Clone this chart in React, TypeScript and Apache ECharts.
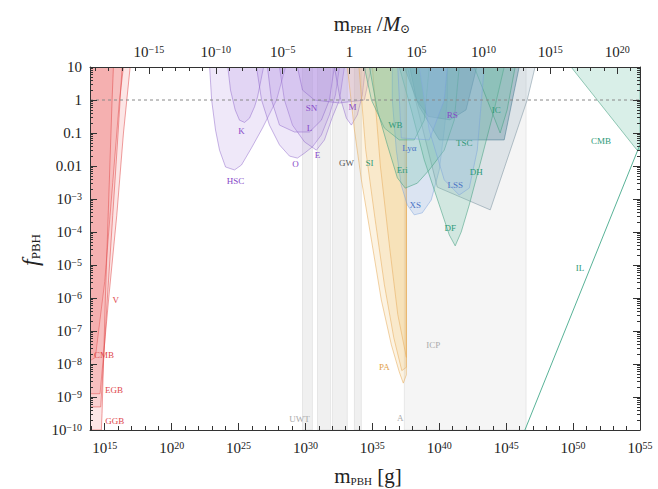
import React, { useEffect, useRef } from "react";
import * as echarts from "echarts";

// Axis extents, in log10 units (grams on x, f_PBH on y)
const X_MIN = 13.9;
const X_MAX = 55;
const Y_MIN = -10;
const Y_MAX = 1;
const LOG_M_SUN = 33.3; // log10 of the solar mass in grams

// Tick positions (exponents)
const BOTTOM_MAJOR = [15, 20, 25, 30, 35, 40, 45, 50, 55];
const TOP_MAJOR = [-15, -10, -5, 0, 5, 10, 15, 20];
const Y_MAJOR = [-10, -9, -8, -7, -6, -5, -4, -3, -2, -1, 0, 1];

// Constraint regions, each a polygon of [log10 m/g, log10 f] points
// Evaporation
const EVAP_GGB = [[13.9, -10], [14.75, -10], [14.8, -9.5], [15.05, -6], [15.3, -3], [15.55, 0], [15.65, 1], [13.9, 1]];
const EVAP_EGB = [[13.9, -9.3], [14.7, -9.3], [15.2, -6], [15.6, -3.5], [16.0, -1], [16.3, 1], [13.9, 1]];
const EVAP_CMB = [[13.9, -7.9], [14.3, -7.8], [15.0, -5.5], [15.6, -2.5], [16.1, 0], [16.4, 1], [13.9, 1]];
const EVAP_V = [[13.9, -8.9], [14.65, -8.9], [15.3, -6], [15.9, -3.5], [16.4, -1], [16.65, 0], [16.9, 1], [13.9, 1]];

// Lensing
const LENS_HSC = [[22.84, 1], [22.99, 0], [23.28, -0.91], [23.58, -1.52], [24.03, -2.03], [24.7, -2.12], [25.22, -1.97], [25.97, -1.45], [26.79, -0.85], [27.84, 0], [28.51, 1]];
const LENS_K = [[24.2, 1], [24.4, 0.3], [24.75, -0.3], [25.07, -0.61], [25.45, -0.68], [25.82, -0.55], [26.2, -0.2], [26.42, 0.09], [26.87, 1]];
const LENS_O = [[26.34, 1], [26.72, 0], [27.31, -0.76], [28.06, -1.36], [28.81, -1.7], [29.4, -1.76], [29.93, -1.61], [30.52, -1.42], [31.19, -1.06], [31.79, -0.45], [32.24, 0.15], [32.54, 1]];
const LENS_E = [[28.06, 1], [28.43, 0], [29.03, -0.76], [29.93, -1.27], [30.82, -1.52], [31.42, -1.21], [32.01, -0.52], [32.54, 0], [32.91, 1]];
const LENS_L = [[27.16, 1], [27.46, 0], [28.06, -0.76], [29.18, -0.97], [30.3, -0.97], [31.19, -0.61], [31.79, 0], [32.16, 1]];
const LENS_SN = [[29.4, 1], [29.78, 0.3], [30.67, 0], [32.54, -0.09], [34.4, 0], [34.93, 1]];
const LENS_M = [[32.16, 1], [32.54, 0.15], [33.06, -0.55], [33.43, -0.76], [33.88, -0.45], [34.25, 0.15], [34.48, 1]];

// Background / gravitational-wave bands, [from, to] in log10 m
const GREY_BANDS = [[29.78, 30.52], [30.9, 31.87], [32.01, 33.13], [33.66, 34.18], [37.39, 46.49]];

// Accretion
const ACC_PA1 = [[33.13, 1], [33.66, -0.91], [34.18, -2.42], [34.93, -4.24], [35.67, -6.06], [36.42, -7.42], [37.01, -8.24], [37.31, -8.58], [37.54, -8.33], [37.54, 1]];
const ACC_PA2 = [[34.0, 1], [34.5, -1.5], [35.2, -3.6], [35.9, -5.6], [36.6, -7.2], [37.2, -8.2], [37.54, -8.1], [37.54, 1]];
const ACC_PA3 = [[35.0, 1], [35.6, -2], [36.3, -4.5], [36.9, -6.5], [37.54, -7.8], [37.54, 1]];
const ACC_XS = [[36.49, 1], [36.49, 0], [36.79, -1.52], [37.16, -2.58], [37.61, -3.18], [38.13, -3.48], [38.73, -3.42], [39.4, -3.03], [40.0, -2.12], [40.37, -0.91], [40.6, 0], [40.6, 1]];

// Dynamical and large-scale structure
const DYN_DH = [[37.61, 1], [39.85, -2.64], [43.81, -3.33], [46.57, 0], [47.16, 1]];
const DYN_TSC = [[37.39, 1], [38.5, -0.2], [40.0, -1.21], [44.85, -1.21], [45.97, 1]];
const DYN_RS = [[37.8, 1], [38.3, 0], [39.2, -0.5], [40.8, -0.6], [42.0, -0.3], [42.8, 1]];
const DYN_DF = [[37.01, 1], [37.91, -0.3], [38.88, -1.82], [40.0, -3.18], [40.75, -4.09], [41.19, -4.42], [41.64, -4.0], [42.24, -3.18], [43.13, -1.82], [44.1, -0.3], [44.85, 1]];
const DYN_WB = [[34.4, 1], [34.93, 0], [35.9, -0.85], [37.01, -1.21], [38.13, -1.21], [38.88, -0.61], [39.25, 1]];
const DYN_ERI = [[34.78, 1], [35.37, -0.3], [36.12, -1.36], [36.87, -2.36], [37.46, -2.67], [38.36, -2.52], [39.25, -2.12], [40.37, -1.52], [41.12, -0.61], [41.49, 1]];
const DYN_IC = [[42.61, 1], [43.73, -0.15], [44.55, -1.0], [45.07, -0.3], [45.67, 1]];
const LSS_LSS = [[38.51, 1], [39.25, -0.91], [40.37, -2.42], [41.49, -2.88], [42.24, -2.67], [42.84, -1.52], [43.36, 1]];
const LSS_LYA = [[36.9, 1], [37.16, -1.15], [39.25, -1.21], [40.37, 0], [40.6, 1]];
const DYN_CMB = [[49.85, 1], [54.78, -1.52], [55, -1.52], [55, 1]];
const INCREDULITY = [[46.4, -10], [55, -1.35]];
const UNITY = [[X_MIN, 0], [X_MAX, 0]];

// Region labels: text and [log10 m, log10 f] anchor
const RED_LABELS = ["V", "CMB", "EGB", "GGB"];
const RED_AT = [[15.82, -6.06], [14.95, -7.73], [15.7, -8.79], [15.75, -9.73]];
const PURPLE_LABELS = ["HSC", "K", "O", "E", "L", "SN", "M", "RS"];
const PURPLE_AT = [[24.78, -2.45], [25.22, -0.94], [29.25, -1.94], [30.9, -1.67], [30.3, -0.85], [30.45, -0.24], [33.51, -0.21], [40.97, -0.45]];
const GREEN_LABELS = ["SI", "WB", "Eri", "IC", "TSC", "DH", "DF", "CMB", "IL"];
const GREEN_AT = [[34.78, -1.91], [36.72, -0.76], [37.24, -2.12], [44.25, -0.3], [41.87, -1.3], [42.76, -2.18], [40.82, -3.88], [52.09, -1.24], [50.52, -5.09]];
const BLUE_LABELS = ["Lyα", "XS", "LSS"];
const BLUE_AT = [[37.76, -1.45], [38.21, -3.18], [41.19, -2.58]];
const GREY_LABELS = ["GW", "UWT", "A", "ICP"];
const GREY_AT = [[33.06, -1.91], [29.55, -9.67], [37.09, -9.64], [39.55, -7.42]];
const ORANGE_LABELS = ["PA"];
const ORANGE_AT = [[35.9, -8.09]];

const SERIF = "'Liberation Serif', 'DejaVu Serif', serif";
const MINUS = "\u2212";

function powLabel(v: number): string {
  return "10{sup|" + String(v).replace("-", MINUS) + "}";
}

function polygon(points: number[][], fill: string, stroke: string, lineWidth = 0.8) {
  return {
    type: "custom",
    coordinateSystem: "cartesian2d",
    silent: true,
    clip: true,
    data: points,
    renderItem: (params: any, api: any) => {
      if (params.dataIndex !== 0) return null;
      return {
        type: "polygon",
        shape: { points: points.map((p) => api.coord(p)) },
        style: { fill, stroke, lineWidth },
      };
    },
  };
}

function labels(texts: string[], at: number[][], color: string, size = 9) {
  return {
    type: "custom",
    coordinateSystem: "cartesian2d",
    silent: true,
    data: at,
    z: 5,
    renderItem: (params: any, api: any) => {
      const [x, y] = api.coord([api.value(0), api.value(1)]);
      return {
        type: "text",
        x,
        y,
        style: {
          text: texts[params.dataIndex],
          fill: color,
          font: `${size}px ${SERIF}`,
          align: "center",
          verticalAlign: "middle",
        },
      };
    },
  };
}

function range(a: number, b: number): number[] {
  const out: number[] = [];
  for (let i = a; i <= b; i++) out.push(i);
  return out;
}

function buildOption(): any {
  const yMinor: number[] = [];
  for (let n = Y_MIN; n < Y_MAX; n++) {
    for (let k = 2; k <= 9; k++) yMinor.push(n + Math.log10(k));
  }
  const tickRich = {
    sup: { fontSize: 10, verticalAlign: "top", lineHeight: 8, fontFamily: SERIF, color: "#222" },
  };
  const labelBase = { fontSize: 15, fontFamily: SERIF, color: "#222", rich: tickRich };

  const red = (p: number[][]) => polygon(p, "rgba(240,105,105,0.17)", "rgba(225,70,70,0.65)");
  const purple = (p: number[][]) => polygon(p, "rgba(175,140,225,0.2)", "rgba(140,100,200,0.6)");
  const orange = (p: number[][]) => polygon(p, "rgba(240,200,125,0.22)", "rgba(232,175,95,0.7)");
  const green = (p: number[][]) => polygon(p, "rgba(110,195,165,0.26)", "rgba(70,160,130,0.7)");
  const teal = (p: number[][]) => polygon(p, "rgba(55,115,140,0.3)", "rgba(55,110,135,0.6)");
  const blue = (p: number[][]) => polygon(p, "rgba(160,190,235,0.3)", "rgba(120,160,220,0.6)");
  const slate = (p: number[][]) => polygon(p, "rgba(150,175,190,0.25)", "rgba(110,135,150,0.6)");

  const greyBands = GREY_BANDS.map(([a, b], i) =>
    polygon(
      [[a, Y_MIN], [b, Y_MIN], [b, Y_MAX], [a, Y_MAX]],
      i === GREY_BANDS.length - 1 ? "rgba(200,200,200,0.18)" : "rgba(185,185,185,0.22)",
      "rgba(170,170,170,0.35)",
      0.6
    )
  );

  const axisLine = { show: true, onZero: false, lineStyle: { color: "#333", width: 1 } };
  const noLine = { show: false, onZero: false };

  return {
    animation: false,
    backgroundColor: "#fff",
    grid: { left: 90, right: 18, top: 67, bottom: 59, containLabel: false },
    xAxis: [
      {
        type: "value",
        position: "bottom",
        min: X_MIN,
        max: X_MAX,
        z: 10,
        axisLine,
        splitLine: { show: false },
        axisTick: { show: true, inside: true, length: 4, customValues: range(14, 55), lineStyle: { color: "#333" } },
        axisLabel: { ...labelBase, margin: 10, customValues: BOTTOM_MAJOR, formatter: (v: number) => powLabel(v) },
      },
      {
        type: "value",
        position: "top",
        min: X_MIN - LOG_M_SUN,
        max: X_MAX - LOG_M_SUN,
        z: 10,
        axisLine,
        splitLine: { show: false },
        axisTick: { show: true, inside: true, length: 4, customValues: range(-19, 21), lineStyle: { color: "#333" } },
        axisLabel: {
          ...labelBase,
          margin: 8,
          customValues: TOP_MAJOR,
          formatter: (v: number) => (v === 0 ? "1" : powLabel(v)),
        },
      },
      {
        type: "value",
        position: "bottom",
        offset: 0,
        min: X_MIN,
        max: X_MAX,
        z: 10,
        axisLine: noLine,
        splitLine: { show: false },
        axisTick: { show: true, inside: true, length: 7, customValues: BOTTOM_MAJOR, lineStyle: { color: "#333" } },
        axisLabel: { show: false },
      },
      {
        type: "value",
        position: "top",
        offset: 0,
        min: X_MIN - LOG_M_SUN,
        max: X_MAX - LOG_M_SUN,
        z: 10,
        axisLine: noLine,
        splitLine: { show: false },
        axisTick: { show: true, inside: true, length: 7, customValues: TOP_MAJOR, lineStyle: { color: "#333" } },
        axisLabel: { show: false },
      },
    ],
    yAxis: [
      {
        type: "value",
        position: "left",
        min: Y_MIN,
        max: Y_MAX,
        interval: 1,
        z: 10,
        axisLine,
        splitLine: { show: false },
        axisTick: { show: true, inside: true, length: 7, lineStyle: { color: "#333" } },
        axisLabel: {
          ...labelBase,
          margin: 8,
          customValues: Y_MAJOR,
          formatter: (v: number) => {
            if (v === 1) return "10";
            if (v === 0) return "1";
            if (v === -1) return "0.1";
            if (v === -2) return "0.01";
            return powLabel(v);
          },
        },
      },
      {
        type: "value",
        position: "right",
        min: Y_MIN,
        max: Y_MAX,
        interval: 1,
        z: 10,
        axisLine,
        splitLine: { show: false },
        axisTick: { show: true, inside: true, length: 7, lineStyle: { color: "#333" } },
        axisLabel: { show: false },
      },
      {
        type: "value",
        position: "left",
        offset: 0,
        min: Y_MIN,
        max: Y_MAX,
        z: 10,
        axisLine: noLine,
        splitLine: { show: false },
        axisTick: { show: true, inside: true, length: 3, customValues: yMinor, lineStyle: { color: "#333" } },
        axisLabel: { show: false },
      },
      {
        type: "value",
        position: "right",
        offset: 0,
        min: Y_MIN,
        max: Y_MAX,
        z: 10,
        axisLine: noLine,
        splitLine: { show: false },
        axisTick: { show: true, inside: true, length: 3, customValues: yMinor, lineStyle: { color: "#333" } },
        axisLabel: { show: false },
      },
    ],
    graphic: [
      {
        type: "text",
        x: 368,
        y: 476,
        style: {
          text: "m{sub|PBH} [g]",
          font: `21px ${SERIF}`,
          fill: "#222",
          align: "center",
          verticalAlign: "middle",
          rich: { sub: { fontSize: 11, fontFamily: SERIF, verticalAlign: "bottom", lineHeight: 10 } },
        },
      },
      {
        type: "text",
        x: 372,
        y: 24,
        style: {
          text: "m{sub|PBH} /{it|M}{sun|⊙}",
          font: `21px ${SERIF}`,
          fill: "#222",
          align: "center",
          verticalAlign: "middle",
          rich: {
            sub: { fontSize: 11, fontFamily: SERIF, verticalAlign: "bottom", lineHeight: 10 },
            it: { fontSize: 21, fontFamily: SERIF, fontStyle: "italic" },
            sun: { fontSize: 12, fontFamily: SERIF, verticalAlign: "bottom", lineHeight: 12 },
          },
        },
      },
      {
        type: "text",
        x: 30,
        y: 250,
        rotation: Math.PI / 2,
        style: {
          text: "{it|f}{sub|PBH}",
          font: `22px ${SERIF}`,
          fill: "#222",
          align: "center",
          verticalAlign: "middle",
          rich: {
            it: { fontSize: 24, fontFamily: SERIF, fontStyle: "italic" },
            sub: { fontSize: 13, fontFamily: SERIF, verticalAlign: "bottom", lineHeight: 10 },
          },
        },
      },
    ],
    series: [
      ...greyBands,
      red(EVAP_V),
      red(EVAP_CMB),
      red(EVAP_EGB),
      red(EVAP_GGB),
      purple(LENS_HSC),
      purple(LENS_K),
      purple(LENS_O),
      purple(LENS_E),
      purple(LENS_L),
      purple(LENS_SN),
      purple(LENS_M),
      orange(ACC_PA1),
      orange(ACC_PA2),
      orange(ACC_PA3),
      blue(ACC_XS),
      slate(DYN_DH),
      teal(DYN_TSC),
      teal(DYN_RS),
      green(DYN_DF),
      green(DYN_WB),
      green(DYN_ERI),
      green(DYN_IC),
      blue(LSS_LSS),
      blue(LSS_LYA),
      green(DYN_CMB),
      {
        type: "line",
        data: INCREDULITY,
        symbol: "none",
        silent: true,
        lineStyle: { color: "rgba(70,170,140,0.9)", width: 1 },
        z: 4,
      },
      {
        type: "line",
        data: UNITY,
        symbol: "none",
        silent: true,
        lineStyle: { color: "#888", width: 1, type: [3, 3] },
        z: 4,
      },
      labels(RED_LABELS, RED_AT, "#e0474c"),
      labels(PURPLE_LABELS, PURPLE_AT, "#8748c8"),
      labels(GREEN_LABELS, GREEN_AT, "#2f9a78"),
      labels(BLUE_LABELS, BLUE_AT, "#4a72c4"),
      labels(GREY_LABELS.slice(0, 1), GREY_AT.slice(0, 1), "#555"),
      labels(GREY_LABELS.slice(1), GREY_AT.slice(1), "#aaa"),
      labels(ORANGE_LABELS, ORANGE_AT, "#e2a04a"),
    ],
  };
}

export default function App() {
  const ref = useRef<HTMLDivElement>(null);
  useEffect(() => {
    document.body.style.margin = "0";
    const chart = echarts.init(ref.current!, null, { renderer: "svg" });
    chart.setOption(buildOption());
    return () => chart.dispose();
  }, []);
  return <div ref={ref} style={{ width: 658, height: 489, background: "#fff" }} />;
}
